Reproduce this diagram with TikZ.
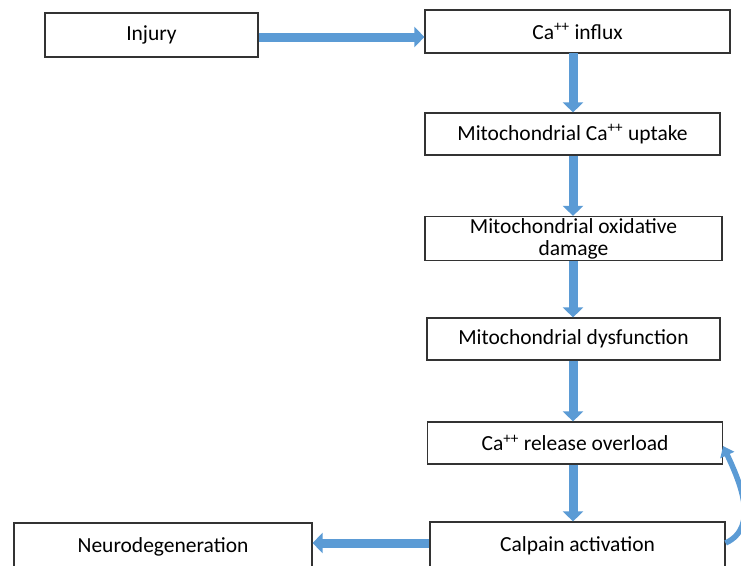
\documentclass[tikz,border=0pt]{standalone}
\usepackage{fontspec}
\setmainfont{Carlito}
\usetikzlibrary{arrows.meta}
\definecolor{flowblue}{RGB}{91,155,213}
\tikzset{
  stage/.style={draw=black!80, line width=1.2pt, fill=white, inner sep=0pt,
    align=center, font=\fontsize{21.5}{22}\selectfont},
  flow/.style={flowblue, line width=9pt,
    -{Triangle[width=20pt, length=10pt]}, shorten >=0pt},
  loopback/.style={flowblue, line width=5.5pt,
    -{Triangle[width=15pt, length=10pt]}}
}
\begin{document}
\begin{tikzpicture}[x = 1pt, y = 1pt]
    \useasboundingbox (0,0) rectangle (741,-565);
    \node[stage, minimum width=213pt, minimum height=44pt] (injury) at (151.5,-35) {Injury};
    \node[stage, minimum width=305pt, minimum height=43pt] (influx) at (577.5,-31.5) {Ca\textsuperscript{++} influx};
    \node[stage, minimum width=295pt, minimum height=42pt] (uptake) at (572.5,-134) {Mitochondrial Ca\textsuperscript{++} uptake};
    \node[stage, minimum width=297pt, minimum height=44pt] (damage) at (573.5,-238.5) {Mitochondrial oxidative\\damage};
    \node[stage, minimum width=293pt, minimum height=42pt] (dysfunc) at (573.5,-339) {Mitochondrial dysfunction};
    \node[stage, minimum width=295pt, minimum height=42pt] (release) at (575,-443) {Ca\textsuperscript{++} release overload};
    \node[stage, minimum width=295pt, minimum height=48pt] (calpain) at (577.5,-546) {Calpain activation};
    \node[stage, minimum width=298pt, minimum height=48pt] (neuro) at (163,-547) {Neurodegeneration};
    \begin{scope}
    \draw[flow] (injury.east |- 0,-37) -- (influx.west |- 0,-37);
    \draw[flow] (573,-53) -- (uptake.north -| 573,0);
    \draw[flow] (uptake.south -| 573,0) -- (damage.north -| 573,0);
    \draw[flow] (damage.south -| 573,0) -- (dysfunc.north -| 573,0);
    \draw[flow] (dysfunc.south -| 573,0) -- (release.north -| 573,0);
    \draw[flow] (release.south -| 573,0) -- (calpain.north -| 573,0);
    \draw[flow] (calpain.west |- 0,-543) -- (neuro.east |- 0,-543);
    \draw[loopback] (calpain.east |- 0,-543) to[out=25, in=-65] (release.east |- 0,-446);
    \end{scope}
\end{tikzpicture}
\end{document}
